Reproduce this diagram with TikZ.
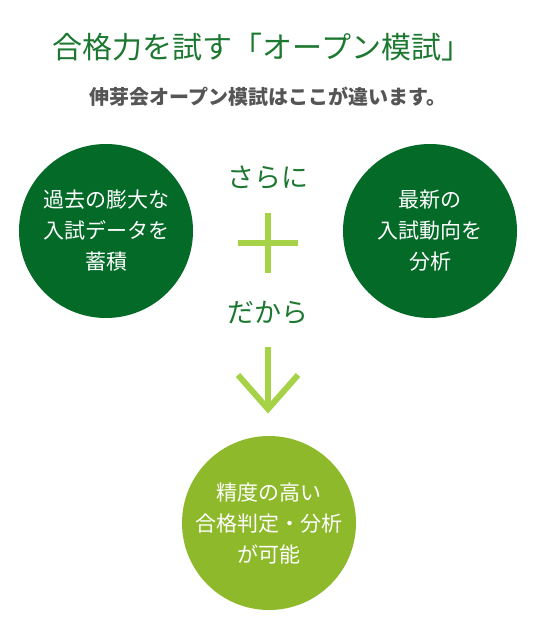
\documentclass[tikz,border=0pt]{standalone}
\usepackage{fontspec}
\newfontfamily\jpfont{Noto Sans CJK JP}
\definecolor{jkdark}{RGB}{4,106,40}
\definecolor{jktitle}{RGB}{28,120,48}
\definecolor{jklight}{RGB}{141,185,43}
\definecolor{jklime}{RGB}{166,210,72}
\definecolor{jkgray}{RGB}{85,85,85}
\usetikzlibrary{positioning}

\tikzset{
  feature/.style={circle,fill=jkdark,minimum size=174pt,inner sep=0pt,
        text=white,align=center,font=\jpfont\fontsize{21}{31}\selectfont},
  result/.style={feature,fill=jklight},
  joiner/.style={text=jktitle,font=\jpfont\fontsize{27}{30}\selectfont},
  limebar/.style={draw=jklime,line width=6pt}
}

\begin{document}
\begin{tikzpicture}[x=1pt,y=-1pt]
  \useasboundingbox (0,0) rectangle (538,644);

  %% heading
  \node[text=jktitle,font=\jpfont\fontsize{30}{32}\selectfont]
        (title) at (262,47) {合格力を試す「オープン模試」};
  \node[text=jkgray,font=\jpfont\bfseries\fontsize{20}{22}\selectfont]
        (lead) at (268,97) {伸芽会オープン模試はここが違います。};

  %% two strengths
  \node[feature] (past) at (106,231) {過去の膨大な\\入試データを\\蓄積};
  \node[feature] (trend) at (430,231) {最新の\\入試動向を\\分析};

  %% plus
  \node[joiner] (sarani) at (268,178) {さらに};
  \coordinate (plus) at (268,243);
  \draw[limebar] (plus) ++(0,-30) -- ++(0,60);
  \draw[limebar] (plus) ++(-30,0) -- ++(60,0);

  %% arrow down
  \node[joiner] (dakara) at (268,313) {だから};
  \coordinate (stem) at (268,347);
  \coordinate (tip) at (268,409);
  \draw[limebar] (stem) -- (tip);
  \draw[limebar] (tip) ++(-30,-34) -- (tip) -- ++(30,-34);

  %% result
  \node[result] (goal) at (269,523) {精度の高い\\合格判定・分析\\が可能};
\end{tikzpicture}
\end{document}
